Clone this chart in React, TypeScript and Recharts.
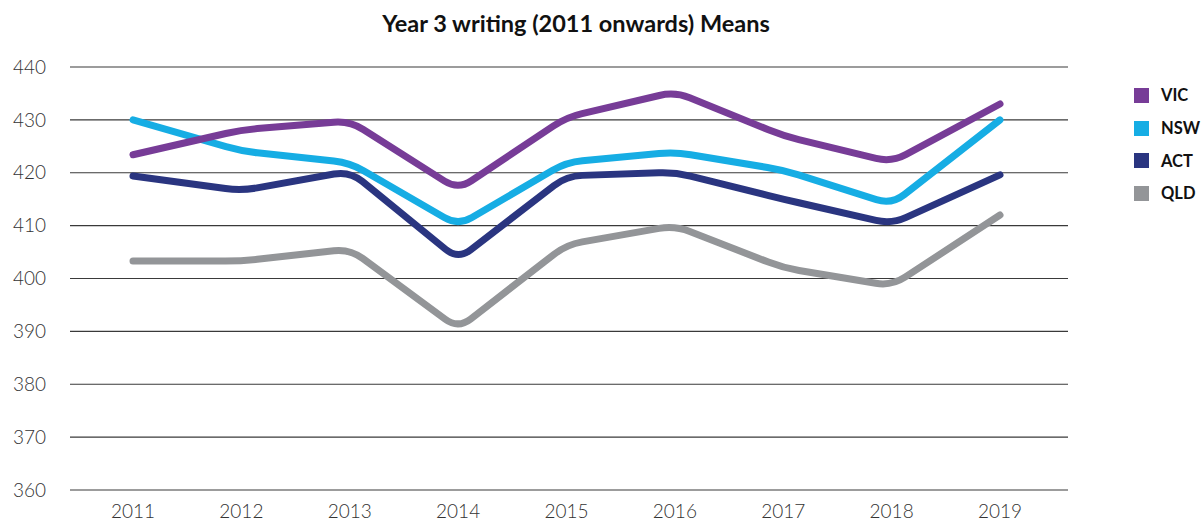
import React from 'react';
import { LineChart, Line, XAxis, YAxis, CartesianGrid } from 'recharts';

const years = ['2011', '2012', '2013', '2014', '2015', '2016', '2017', '2018', '2019'];
const vic = [423.4, 428.1, 429.8, 416.8, 430.5, 435.3, 427.0, 422.0, 433.0];
const nsw = [430.0, 424.1, 421.9, 410.0, 422.0, 423.9, 420.5, 414.0, 430.0];
const act = [419.4, 416.6, 420.3, 403.6, 419.4, 420.1, 415.0, 410.3, 419.6];
const qld = [403.3, 403.3, 405.6, 390.5, 406.4, 410.0, 402.0, 398.6, 412.0];
const yTicks = [360, 370, 380, 390, 400, 410, 420, 430, 440];

const series = [
  { key: 'VIC', color: '#773c97' },
  { key: 'NSW', color: '#16ade4' },
  { key: 'ACT', color: '#2a3580' },
  { key: 'QLD', color: '#939598' },
];

const data = years.map((y, i) => ({ year: y, VIC: vic[i], NSW: nsw[i], ACT: act[i], QLD: qld[i] }));

// straight segments with a small fillet at each point (like the original's smoothing)
const roundedCurve = (ctx: any) => {
  let pts: number[][] = [];
  const draw = () => {
    if (!pts.length) return;
    ctx.moveTo(pts[0][0], pts[0][1]);
    for (let i = 1; i < pts.length - 1; i++) {
      const [px, py] = pts[i - 1];
      const [cx, cy] = pts[i];
      const [nx, ny] = pts[i + 1];
      const d1 = Math.hypot(cx - px, cy - py);
      const d2 = Math.hypot(nx - cx, ny - cy);
      const r = Math.min(16, d1 / 2, d2 / 2);
      ctx.lineTo(cx - ((cx - px) / d1) * r, cy - ((cy - py) / d1) * r);
      ctx.quadraticCurveTo(cx, cy, cx + ((nx - cx) / d2) * r, cy + ((ny - cy) / d2) * r);
    }
    const last = pts[pts.length - 1];
    if (pts.length > 1) ctx.lineTo(last[0], last[1]);
  };
  return {
    areaStart() {},
    areaEnd() {},
    lineStart() { pts = []; },
    lineEnd() { draw(); },
    point(x: number, y: number) { pts.push([+x, +y]); },
  };
};

const LegendBox = () => (
  <div style={{ position: 'absolute', left: 1134, top: 79, fontFamily: 'Lato, sans-serif' }}>
    {series.map((s) => (
      <div key={s.key} style={{ display: 'flex', alignItems: 'center', height: 32.7 }}>
        <span style={{ width: 15, height: 15, background: s.color, display: 'inline-block', marginRight: 12 }} />
        <span style={{ fontWeight: 700, fontSize: 16.5, color: '#111' }}>{s.key}</span>
      </div>
    ))}
  </div>
);

export default function App() {
  return (
    <div style={{ position: 'absolute', left: 0, top: 0, width: 1201, height: 524, background: '#fff' }}>
      <div
        style={{
          position: 'absolute', left: 0, width: 1152, top: 9, textAlign: 'center',
          fontFamily: 'Lato, sans-serif', fontWeight: 700, fontSize: 23.5, color: '#111',
        }}
      >
        Year 3 writing (2011 onwards) Means
      </div>
      <LegendBox />
      <LineChart width={1201} height={524} data={data} margin={{ top: 67, right: 133, bottom: 0, left: 0 }}>
        <CartesianGrid vertical={false} stroke="#3a3a3a" strokeWidth={1.2} />
        <XAxis
          dataKey="year"
          axisLine={false}
          tickLine={false}
          tickSize={0}
          tickMargin={15}
          height={34}
          padding={{ left: 63, right: 68 }}
          tick={{ fill: '#333', fontSize: 19, fontFamily: 'Lato, sans-serif', fontWeight: 300 }}
        />
        <YAxis
          domain={[360, 440]}
          ticks={yTicks}
          axisLine={false}
          tickLine={false}
          tickSize={0}
          tickMargin={24}
          width={70}
          tick={{ fill: '#333', fontSize: 19, fontFamily: 'Lato, sans-serif', fontWeight: 300 }}
        />
        {[...series].reverse().map((s) => (
          <Line
            key={s.key}
            dataKey={s.key}
            type={roundedCurve as any}
            stroke={s.color}
            strokeWidth={7}
            strokeLinecap="round"
            strokeLinejoin="round"
            dot={false}
            activeDot={false}
            isAnimationActive={false}
          />
        ))}
      </LineChart>
    </div>
  );
}
